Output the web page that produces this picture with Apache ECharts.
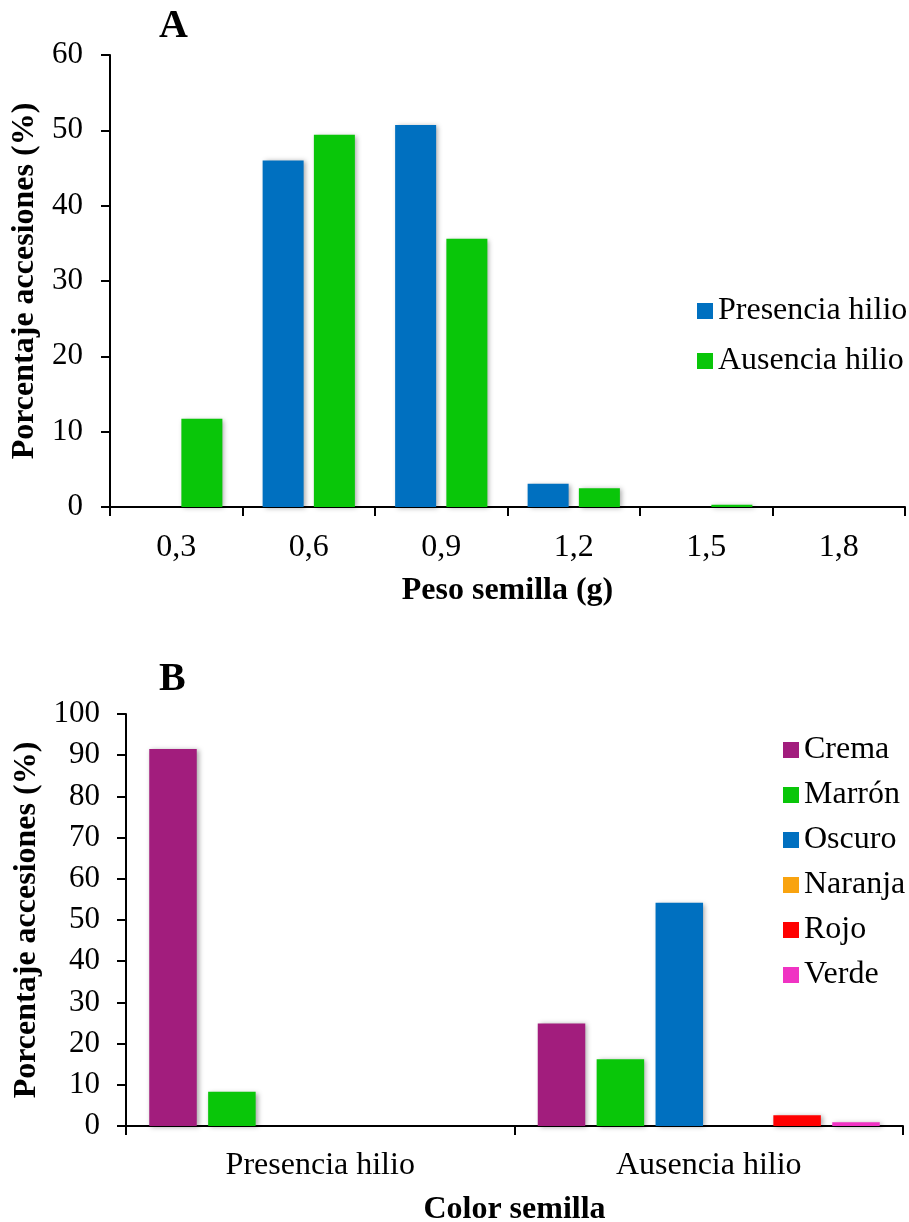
<!DOCTYPE html>
<html>
<head>
<meta charset="utf-8">
<script src="https://cdn.jsdelivr.net/npm/echarts@6/dist/echarts.min.js"></script>
<style>
html,body{margin:0;padding:0;background:#fff;}
#main{width:909px;height:1222px;}
</style>
</head>
<body>
<div id="main"></div>
<script>
// ---- Data ----
const pesoCategories = ['0,3', '0,6', '0,9', '1,2', '1,5', '1,8'];
const presenciaPeso = [0, 46.0, 50.7, 3.1, 0, 0];
const ausenciaPeso = [11.7, 49.4, 35.6, 2.5, 0.3, 0];

const colorCategories = ['Presencia hilio', 'Ausencia hilio'];
const crema = [91.5, 24.9];
const marron = [8.3, 16.2];
const oscuro = [0, 54.2];
const naranja = [0, 0];
const rojo = [0, 2.6];
const verde = [0, 0.9];

const seriesA = [
  { name: 'Presencia hilio', data: presenciaPeso, color: '#0070C0' },
  { name: 'Ausencia hilio', data: ausenciaPeso, color: '#09C609' }
];
const seriesB = [
  { name: 'Crema', data: crema, color: '#A21D7D' },
  { name: 'Marrón', data: marron, color: '#09C609' },
  { name: 'Oscuro', data: oscuro, color: '#0070C0' },
  { name: 'Naranja', data: naranja, color: '#F9A30F' },
  { name: 'Rojo', data: rojo, color: '#FF0000' },
  { name: 'Verde', data: verde, color: '#F033C3' }
];

const FONT = "'Liberation Serif', 'Times New Roman', serif";
const TXT = 32;
const TICKTXT = 31;
const axisLineStyle = { color: '#000', width: 2 };
const shadow = { shadowColor: 'rgba(0,0,0,0.35)', shadowBlur: 5, shadowOffsetX: 2, shadowOffsetY: 1 };

function mkSeries(list, axisIdx, barWidth, barGap) {
  return list.map(s => ({
    type: 'bar',
    name: s.name,
    xAxisIndex: axisIdx,
    yAxisIndex: axisIdx,
    data: s.data,
    barWidth: barWidth,
    barGap: barGap,
    itemStyle: Object.assign({ color: s.color }, shadow),
    emphasis: { disabled: true },
    animation: false
  }));
}

const chart = echarts.init(document.getElementById('main'), null, { renderer: 'canvas' });
chart.setOption({
  backgroundColor: '#fff',
  animation: false,
  textStyle: { fontFamily: FONT, color: '#000' },
  title: [
    { text: 'A', left: 154, top: 2, textStyle: { fontFamily: FONT, fontWeight: 'bold', fontSize: 40, color: '#000' } },
    { text: 'B', left: 154, top: 655, textStyle: { fontFamily: FONT, fontWeight: 'bold', fontSize: 40, color: '#000' } }
  ],
  legend: [
    {
      data: seriesA.map(s => s.name),
      orient: 'vertical', left: 692, top: 290, itemGap: 18,
      icon: 'rect', itemWidth: 16, itemHeight: 16,
      textStyle: { fontFamily: FONT, fontSize: TXT, color: '#000' },
      selectedMode: false
    },
    {
      data: seriesB.map(s => s.name),
      orient: 'vertical', left: 778, top: 729, itemGap: 13,
      icon: 'rect', itemWidth: 16, itemHeight: 16,
      textStyle: { fontFamily: FONT, fontSize: TXT, color: '#000' },
      selectedMode: false
    }
  ],
  grid: [
    { left: 110, right: 4, top: 55, height: 452, containLabel: false, outerBoundsMode: 'none' },
    { left: 126, right: 6, top: 714, height: 412, containLabel: false, outerBoundsMode: 'none' }
  ],
  xAxis: [
    {
      type: 'category', gridIndex: 0, data: pesoCategories,
      name: 'Peso semilla (g)', nameLocation: 'middle', nameGap: 68,
      nameTextStyle: { fontFamily: FONT, fontWeight: 'bold', fontSize: TXT, color: '#000' },
      axisLine: { lineStyle: axisLineStyle },
      axisTick: { show: true, length: 9, lineStyle: axisLineStyle },
      axisLabel: { fontFamily: FONT, fontSize: TXT, color: '#000', margin: 25 },
      splitLine: { show: false }
    },
    {
      type: 'category', gridIndex: 1, data: colorCategories,
      name: 'Color semilla', nameLocation: 'middle', nameGap: 68,
      nameTextStyle: { fontFamily: FONT, fontWeight: 'bold', fontSize: TXT, color: '#000' },
      axisLine: { lineStyle: axisLineStyle },
      axisTick: { show: true, length: 9, lineStyle: axisLineStyle },
      axisLabel: { fontFamily: FONT, fontSize: TXT, color: '#000', margin: 24 },
      splitLine: { show: false }
    }
  ],
  yAxis: [
    {
      type: 'value', gridIndex: 0, min: 0, max: 60, interval: 10,
      name: 'Porcentaje accesiones (%)', nameLocation: 'middle', nameGap: 68, nameRotate: 90,
      nameTextStyle: { fontFamily: FONT, fontWeight: 'bold', fontSize: TXT, color: '#000' },
      axisLine: { show: true, lineStyle: axisLineStyle },
      axisTick: { show: true, length: 9, lineStyle: axisLineStyle },
      axisLabel: { fontFamily: FONT, fontSize: TICKTXT, color: '#000', margin: 27 },
      splitLine: { show: false }
    },
    {
      type: 'value', gridIndex: 1, min: 0, max: 100, interval: 10,
      name: 'Porcentaje accesiones (%)', nameLocation: 'middle', nameGap: 81, nameRotate: 90,
      nameTextStyle: { fontFamily: FONT, fontWeight: 'bold', fontSize: TXT, color: '#000' },
      axisLine: { show: true, lineStyle: axisLineStyle },
      axisTick: { show: true, length: 9, lineStyle: axisLineStyle },
      axisLabel: { fontFamily: FONT, fontSize: TICKTXT, color: '#000', margin: 26 },
      splitLine: { show: false }
    }
  ],
  series: mkSeries(seriesA, 0, 41, '25%').concat(mkSeries(seriesB, 1, 47.5, '24%'))
});
</script>
</body>
</html>
